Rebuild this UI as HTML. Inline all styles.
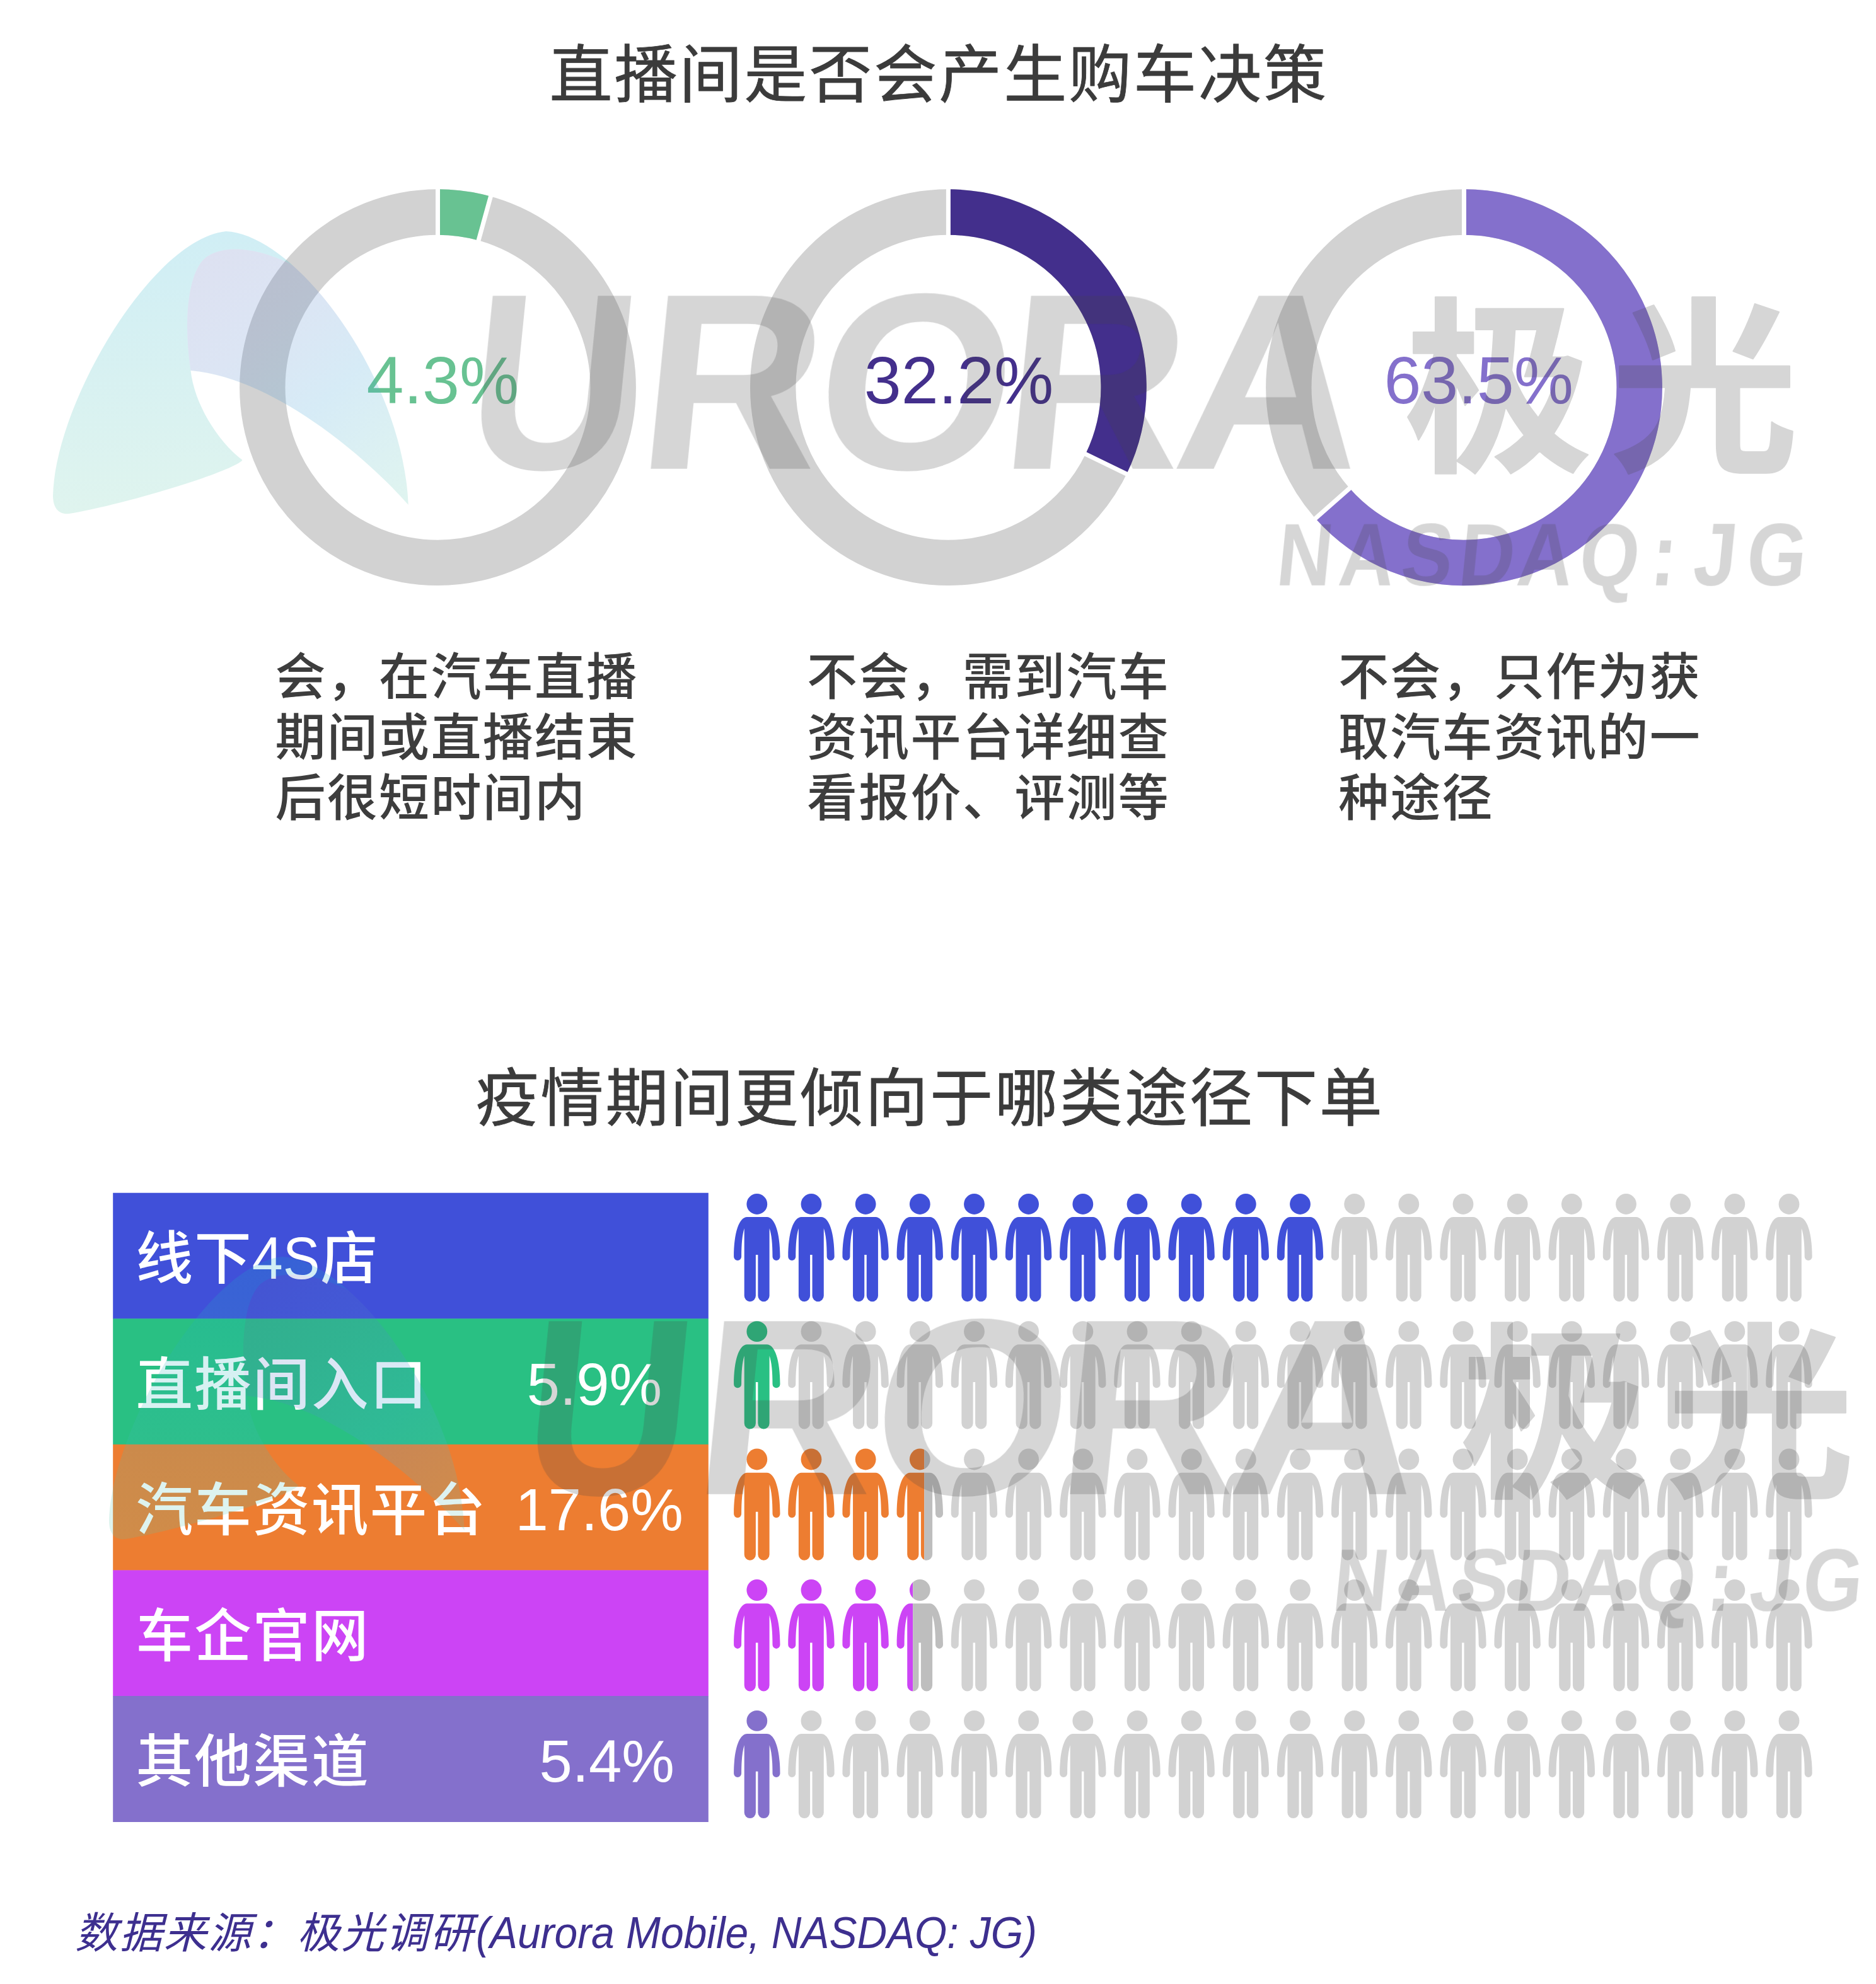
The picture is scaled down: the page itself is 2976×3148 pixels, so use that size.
<!DOCTYPE html>
<html lang="zh-CN"><head><meta charset="utf-8"><title>直播间是否会产生购车决策</title>
<style>
html,body{margin:0;padding:0;background:#fff;}
body{width:2976px;height:3148px;overflow:hidden;}
svg{display:block;font-family:'Liberation Sans','Noto Sans CJK SC',sans-serif;}
.t{font-size:100px;letter-spacing:2.95px;fill:#3b3b3b;stroke:#3b3b3b;stroke-width:0.8px;font-weight:400;}
.d{font-size:80px;letter-spacing:2.3px;fill:#3d3d3d;font-weight:500;}
.b{font-size:90.5px;letter-spacing:2.3px;fill:#fff;font-weight:500;}
.q{font-size:94px;fill:#fff;font-weight:400;}
.n{font-size:106px;font-weight:400;}
</style></head><body>
<svg width="2976" height="3148" viewBox="0 0 2976 3148">
<defs>
<g id="p"><circle cx="36.7" cy="16.4" r="16.4"/><path d="M21.2,37H52.4C65,37 73.4,62 73.4,100A6,6 0 0 1 61.4,100C61.4,80 60,65 56.5,55V162A9.1,9.1 0 0 1 38.3,162V96.8H34.8V162A9.1,9.1 0 0 1 16.6,162V55C13.4,65 12,80 12,100A6,6 0 0 1 0,100C0,62 8.4,37 21.2,37Z"/></g>
<linearGradient id="gT" x1="0" y1="0" x2="0" y2="1"><stop offset="0" stop-color="rgb(20,170,205)"/><stop offset="1" stop-color="rgb(95,200,170)"/></linearGradient>
<linearGradient id="gS" gradientUnits="userSpaceOnUse" x1="310" y1="420" x2="640" y2="790"><stop offset="0" stop-color="rgb(85,105,185)" stop-opacity="0.2"/><stop offset="0.3" stop-color="rgb(80,125,200)" stop-opacity="0.2"/><stop offset="0.6" stop-color="rgb(70,165,215)" stop-opacity="0.22"/><stop offset="1" stop-color="rgb(95,200,180)" stop-opacity="0.2"/></linearGradient>

<clipPath id="cT"><path d="M84,786C88,640 240,380 358.5,367C470,372 640,600 647.7,801C590,735 440,600 302.5,588C308,640 345,700 384.6,730C370,748 200,800 110,815C95,817 84,808 84,786Z"/></clipPath><mask id="mS" maskUnits="userSpaceOnUse" x="0" y="300" width="800" height="600"><rect x="0" y="300" width="800" height="600" fill="#fff"/><path d="M302.5,588C292,520 296,445 320,415C340,390 400,385 470,424L720,330L720,860L647.7,801C590,735 440,600 302.5,588Z" fill="#000"/></mask>
</defs>
<rect width="2976" height="3148" fill="#fff"/>

<text class="t" x="871.5" y="153.7">直播间是否会产生购车决策</text>
<text class="t" x="754.5" y="1777.5">疫情期间更倾向于哪类途径下单</text>
<circle cx="694.5" cy="614.7" r="278.2" fill="none" stroke="#d2d2d2" stroke-width="72.4"/>
<path d="M694.50,336.50A278.2,278.2 0 0 1 768.75,346.59" fill="none" stroke="#68c292" stroke-width="72.4"/>
<line x1="694.50" y1="375.70" x2="694.50" y2="297.30" stroke="#fff" stroke-width="7"/>
<line x1="758.29" y1="384.37" x2="779.21" y2="308.81" stroke="#fff" stroke-width="7"/>
<text class="n" x="581.6" y="640.2" fill="#68c292">4.3%</text>
<circle cx="1504.4" cy="614.7" r="278.2" fill="none" stroke="#d2d2d2" stroke-width="72.4"/>
<path d="M1504.40,336.50A278.2,278.2 0 0 1 1754.61,736.31" fill="none" stroke="#432f8c" stroke-width="72.4"/>
<line x1="1504.40" y1="375.70" x2="1504.40" y2="297.30" stroke="#fff" stroke-width="7"/>
<line x1="1719.36" y1="719.17" x2="1789.87" y2="753.44" stroke="#fff" stroke-width="7"/>
<text class="n" x="1370.8" y="640.2" fill="#432f8c">32.2%</text>
<circle cx="2322.5" cy="614.7" r="278.2" fill="none" stroke="#d2d2d2" stroke-width="72.4"/>
<path d="M2322.50,336.50A278.2,278.2 0 1 1 2113.82,798.68" fill="none" stroke="#8470cc" stroke-width="72.4"/>
<line x1="2322.50" y1="375.70" x2="2322.50" y2="297.30" stroke="#fff" stroke-width="7"/>
<line x1="2143.22" y1="772.75" x2="2084.41" y2="824.60" stroke="#fff" stroke-width="7"/>
<text class="n" x="2195.4" y="640.2" fill="#8470cc">63.5%</text>
<text class="d" x="436.5" y="1101.7">会，在汽车直播</text>
<text class="d" x="436.5" y="1197.9">期间或直播结束</text>
<text class="d" x="436.5" y="1294.0">后很短时间内</text>
<text class="d" x="1280" y="1101.7">不会，需到汽车</text>
<text class="d" x="1280" y="1197.9">资讯平台详细查</text>
<text class="d" x="1280" y="1294.0">看报价、评测等</text>
<text class="d" x="2123" y="1101.7">不会，只作为获</text>
<text class="d" x="2123" y="1197.9">取汽车资讯的一</text>
<text class="d" x="2123" y="1294.0">种途径</text>
<rect x="179.2" y="1892.70" width="944.6" height="200.06" fill="#4050d9"/>
<text class="b" y="2029.2"><tspan x="215.5">线下</tspan><tspan x="399.8" font-size="94" font-weight="400" letter-spacing="0" textLength="107.7" lengthAdjust="spacingAndGlyphs">4S</tspan><tspan x="508.5">店</tspan></text>
<rect x="179.2" y="2092.26" width="944.6" height="200.06" fill="#29c083"/>
<text class="b" x="215.5" y="2228.8">直播间入口</text>
<text class="q" x="835.8" y="2228.5">5.9%</text>
<rect x="179.2" y="2291.82" width="944.6" height="200.06" fill="#ed7d31"/>
<text class="b" x="215.5" y="2428.3">汽车资讯平台</text>
<text class="q" x="817.4" y="2428.0">17.6%</text>
<rect x="179.2" y="2491.38" width="944.6" height="200.06" fill="#cc44f5"/>
<text class="b" x="215.5" y="2627.9">车企官网</text>
<rect x="179.2" y="2690.94" width="944.6" height="200.06" fill="#8470cc"/>
<text class="b" x="215.5" y="2827.4">其他渠道</text>
<text class="q" x="855.6" y="2827.1">5.4%</text>
<use href="#p" x="1164.10" y="1894.1" fill="#4050d9"/><use href="#p" x="1250.27" y="1894.1" fill="#4050d9"/><use href="#p" x="1336.44" y="1894.1" fill="#4050d9"/><use href="#p" x="1422.61" y="1894.1" fill="#4050d9"/><use href="#p" x="1508.78" y="1894.1" fill="#4050d9"/><use href="#p" x="1594.95" y="1894.1" fill="#4050d9"/><use href="#p" x="1681.12" y="1894.1" fill="#4050d9"/><use href="#p" x="1767.29" y="1894.1" fill="#4050d9"/><use href="#p" x="1853.46" y="1894.1" fill="#4050d9"/><use href="#p" x="1939.63" y="1894.1" fill="#4050d9"/><use href="#p" x="2025.80" y="1894.1" fill="#4050d9"/><use href="#p" x="2111.97" y="1894.1" fill="#d2d2d2"/><use href="#p" x="2198.14" y="1894.1" fill="#d2d2d2"/><use href="#p" x="2284.31" y="1894.1" fill="#d2d2d2"/><use href="#p" x="2370.48" y="1894.1" fill="#d2d2d2"/><use href="#p" x="2456.65" y="1894.1" fill="#d2d2d2"/><use href="#p" x="2542.82" y="1894.1" fill="#d2d2d2"/><use href="#p" x="2628.99" y="1894.1" fill="#d2d2d2"/><use href="#p" x="2715.16" y="1894.1" fill="#d2d2d2"/><use href="#p" x="2801.33" y="1894.1" fill="#d2d2d2"/>
<use href="#p" x="1164.10" y="2096.3" fill="#29c083"/><use href="#p" x="1250.27" y="2096.3" fill="#d2d2d2"/><use href="#p" x="1336.44" y="2096.3" fill="#d2d2d2"/><use href="#p" x="1422.61" y="2096.3" fill="#d2d2d2"/><use href="#p" x="1508.78" y="2096.3" fill="#d2d2d2"/><use href="#p" x="1594.95" y="2096.3" fill="#d2d2d2"/><use href="#p" x="1681.12" y="2096.3" fill="#d2d2d2"/><use href="#p" x="1767.29" y="2096.3" fill="#d2d2d2"/><use href="#p" x="1853.46" y="2096.3" fill="#d2d2d2"/><use href="#p" x="1939.63" y="2096.3" fill="#d2d2d2"/><use href="#p" x="2025.80" y="2096.3" fill="#d2d2d2"/><use href="#p" x="2111.97" y="2096.3" fill="#d2d2d2"/><use href="#p" x="2198.14" y="2096.3" fill="#d2d2d2"/><use href="#p" x="2284.31" y="2096.3" fill="#d2d2d2"/><use href="#p" x="2370.48" y="2096.3" fill="#d2d2d2"/><use href="#p" x="2456.65" y="2096.3" fill="#d2d2d2"/><use href="#p" x="2542.82" y="2096.3" fill="#d2d2d2"/><use href="#p" x="2628.99" y="2096.3" fill="#d2d2d2"/><use href="#p" x="2715.16" y="2096.3" fill="#d2d2d2"/><use href="#p" x="2801.33" y="2096.3" fill="#d2d2d2"/>
<clipPath id="cl2"><rect x="0" y="2293.4" width="1466.2" height="200"/></clipPath><clipPath id="cr2"><rect x="1466.2" y="2293.4" width="200" height="200"/></clipPath>
<use href="#p" transform="translate(1164.10,2298.4) scale(1,1.037)" fill="#ed7d31"/><use href="#p" transform="translate(1250.27,2298.4) scale(1,1.037)" fill="#ed7d31"/><use href="#p" transform="translate(1336.44,2298.4) scale(1,1.037)" fill="#ed7d31"/><g clip-path="url(#cl2)"><use href="#p" transform="translate(1422.61,2298.4) scale(1,1.037)" fill="#ed7d31"/></g><g clip-path="url(#cr2)"><use href="#p" transform="translate(1422.61,2298.4) scale(1,1.037)" fill="#bebebe"/></g><use href="#p" transform="translate(1508.78,2298.4) scale(1,1.037)" fill="#d2d2d2"/><use href="#p" transform="translate(1594.95,2298.4) scale(1,1.037)" fill="#d2d2d2"/><use href="#p" transform="translate(1681.12,2298.4) scale(1,1.037)" fill="#d2d2d2"/><use href="#p" transform="translate(1767.29,2298.4) scale(1,1.037)" fill="#d2d2d2"/><use href="#p" transform="translate(1853.46,2298.4) scale(1,1.037)" fill="#d2d2d2"/><use href="#p" transform="translate(1939.63,2298.4) scale(1,1.037)" fill="#d2d2d2"/><use href="#p" transform="translate(2025.80,2298.4) scale(1,1.037)" fill="#d2d2d2"/><use href="#p" transform="translate(2111.97,2298.4) scale(1,1.037)" fill="#d2d2d2"/><use href="#p" transform="translate(2198.14,2298.4) scale(1,1.037)" fill="#d2d2d2"/><use href="#p" transform="translate(2284.31,2298.4) scale(1,1.037)" fill="#d2d2d2"/><use href="#p" transform="translate(2370.48,2298.4) scale(1,1.037)" fill="#d2d2d2"/><use href="#p" transform="translate(2456.65,2298.4) scale(1,1.037)" fill="#d2d2d2"/><use href="#p" transform="translate(2542.82,2298.4) scale(1,1.037)" fill="#d2d2d2"/><use href="#p" transform="translate(2628.99,2298.4) scale(1,1.037)" fill="#d2d2d2"/><use href="#p" transform="translate(2715.16,2298.4) scale(1,1.037)" fill="#d2d2d2"/><use href="#p" transform="translate(2801.33,2298.4) scale(1,1.037)" fill="#d2d2d2"/>
<clipPath id="cl3"><rect x="0" y="2501" width="1448.2" height="200"/></clipPath><clipPath id="cr3"><rect x="1448.2" y="2501" width="200" height="200"/></clipPath>
<use href="#p" transform="translate(1164.10,2506) scale(1,1.037)" fill="#cc44f5"/><use href="#p" transform="translate(1250.27,2506) scale(1,1.037)" fill="#cc44f5"/><use href="#p" transform="translate(1336.44,2506) scale(1,1.037)" fill="#cc44f5"/><g clip-path="url(#cl3)"><use href="#p" transform="translate(1422.61,2506) scale(1,1.037)" fill="#cc44f5"/></g><g clip-path="url(#cr3)"><use href="#p" transform="translate(1422.61,2506) scale(1,1.037)" fill="#bebebe"/></g><use href="#p" transform="translate(1508.78,2506) scale(1,1.037)" fill="#d2d2d2"/><use href="#p" transform="translate(1594.95,2506) scale(1,1.037)" fill="#d2d2d2"/><use href="#p" transform="translate(1681.12,2506) scale(1,1.037)" fill="#d2d2d2"/><use href="#p" transform="translate(1767.29,2506) scale(1,1.037)" fill="#d2d2d2"/><use href="#p" transform="translate(1853.46,2506) scale(1,1.037)" fill="#d2d2d2"/><use href="#p" transform="translate(1939.63,2506) scale(1,1.037)" fill="#d2d2d2"/><use href="#p" transform="translate(2025.80,2506) scale(1,1.037)" fill="#d2d2d2"/><use href="#p" transform="translate(2111.97,2506) scale(1,1.037)" fill="#d2d2d2"/><use href="#p" transform="translate(2198.14,2506) scale(1,1.037)" fill="#d2d2d2"/><use href="#p" transform="translate(2284.31,2506) scale(1,1.037)" fill="#d2d2d2"/><use href="#p" transform="translate(2370.48,2506) scale(1,1.037)" fill="#d2d2d2"/><use href="#p" transform="translate(2456.65,2506) scale(1,1.037)" fill="#d2d2d2"/><use href="#p" transform="translate(2542.82,2506) scale(1,1.037)" fill="#d2d2d2"/><use href="#p" transform="translate(2628.99,2506) scale(1,1.037)" fill="#d2d2d2"/><use href="#p" transform="translate(2715.16,2506) scale(1,1.037)" fill="#d2d2d2"/><use href="#p" transform="translate(2801.33,2506) scale(1,1.037)" fill="#d2d2d2"/>
<use href="#p" x="1164.10" y="2714" fill="#8470cc"/><use href="#p" x="1250.27" y="2714" fill="#d2d2d2"/><use href="#p" x="1336.44" y="2714" fill="#d2d2d2"/><use href="#p" x="1422.61" y="2714" fill="#d2d2d2"/><use href="#p" x="1508.78" y="2714" fill="#d2d2d2"/><use href="#p" x="1594.95" y="2714" fill="#d2d2d2"/><use href="#p" x="1681.12" y="2714" fill="#d2d2d2"/><use href="#p" x="1767.29" y="2714" fill="#d2d2d2"/><use href="#p" x="1853.46" y="2714" fill="#d2d2d2"/><use href="#p" x="1939.63" y="2714" fill="#d2d2d2"/><use href="#p" x="2025.80" y="2714" fill="#d2d2d2"/><use href="#p" x="2111.97" y="2714" fill="#d2d2d2"/><use href="#p" x="2198.14" y="2714" fill="#d2d2d2"/><use href="#p" x="2284.31" y="2714" fill="#d2d2d2"/><use href="#p" x="2370.48" y="2714" fill="#d2d2d2"/><use href="#p" x="2456.65" y="2714" fill="#d2d2d2"/><use href="#p" x="2542.82" y="2714" fill="#d2d2d2"/><use href="#p" x="2628.99" y="2714" fill="#d2d2d2"/><use href="#p" x="2715.16" y="2714" fill="#d2d2d2"/><use href="#p" x="2801.33" y="2714" fill="#d2d2d2"/>
<text y="3090.7" font-style="italic" fill="#3d2f8f"><tspan x="119" font-size="68" letter-spacing="2.4">数据来源：极光调研</tspan><tspan x="755" font-size="71" textLength="890" lengthAdjust="spacingAndGlyphs">(Aurora Mobile, NASDAQ: JG)</tspan></text>
<g>
<path d="M84,786C88,640 240,380 358.5,367C470,372 640,600 647.7,801C590,735 440,600 302.5,588C308,640 345,700 384.6,730C370,748 200,800 110,815C95,817 84,808 84,786Z" fill="url(#gT)" fill-opacity="0.2" mask="url(#mS)"/>
<path d="M302.5,588C292,520 296,445 320,415C340,390 400,385 470,424L720,330L720,860L647.7,801C590,735 440,600 302.5,588Z" fill="url(#gS)" clip-path="url(#cT)"/>
<g opacity="0.22" fill="#454545" font-weight="700">
<g transform="translate(0,743.8) skewX(-5.7)"><text y="0" font-size="399"><tspan x="732.4" textLength="263.7" lengthAdjust="spacingAndGlyphs">U</tspan><tspan x="1005.7 1285.4 1581.6">ROR</tspan><tspan x="1856.0" textLength="296.8" lengthAdjust="spacingAndGlyphs">A</tspan></text></g>
<g font-family="'Noto Sans CJK SC',sans-serif" font-weight="700" stroke="#454545" stroke-width="2.5" stroke-linejoin="round"><text x="2228 2554.8" y="724.9" font-size="298">极光</text></g>
<g transform="translate(0,928.4) skewX(-5.7)"><text transform="scale(0.86,1)" y="0" font-size="141" x="2351.4 2466.2 2580.6 2687.4 2795.0 2909.2 3041.2 3120.1 3217.7">NASDAQ:JG</text></g>
</g>
</g>
<g transform="translate(89,1627)"><g>
<path d="M84,786C88,640 240,380 358.5,367C470,372 640,600 647.7,801C590,735 440,600 302.5,588C308,640 345,700 384.6,730C370,748 200,800 110,815C95,817 84,808 84,786Z" fill="url(#gT)" fill-opacity="0.2" mask="url(#mS)"/>
<path d="M302.5,588C292,520 296,445 320,415C340,390 400,385 470,424L720,330L720,860L647.7,801C590,735 440,600 302.5,588Z" fill="url(#gS)" clip-path="url(#cT)"/>
<g opacity="0.22" fill="#454545" font-weight="700">
<g transform="translate(0,743.8) skewX(-5.7)"><text y="0" font-size="399"><tspan x="732.4" textLength="263.7" lengthAdjust="spacingAndGlyphs">U</tspan><tspan x="1005.7 1285.4 1581.6">ROR</tspan><tspan x="1856.0" textLength="296.8" lengthAdjust="spacingAndGlyphs">A</tspan></text></g>
<g font-family="'Noto Sans CJK SC',sans-serif" font-weight="700" stroke="#454545" stroke-width="2.5" stroke-linejoin="round"><text x="2228 2554.8" y="724.9" font-size="298">极光</text></g>
<g transform="translate(0,928.4) skewX(-5.7)"><text transform="scale(0.86,1)" y="0" font-size="141" x="2351.4 2466.2 2580.6 2687.4 2795.0 2909.2 3041.2 3120.1 3217.7">NASDAQ:JG</text></g>
</g>
</g></g>
</svg></body></html>
